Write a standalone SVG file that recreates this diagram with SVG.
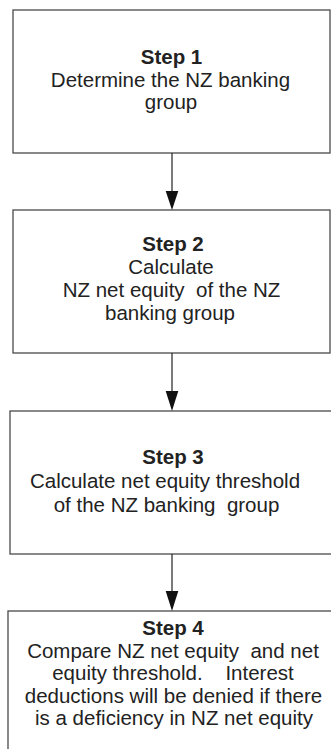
<svg xmlns="http://www.w3.org/2000/svg" width="331" height="749" viewBox="0 0 331 749">
<defs>
<style>
.box{fill:#fff;stroke:#4a4a4a;stroke-width:1.3}
.t{font-family:"Liberation Sans",Arial,sans-serif;font-size:20.5px;fill:#222;text-anchor:middle}
.b{font-weight:bold}
.c{stroke:#222;stroke-width:1.2;fill:none}
.h{fill:#111;stroke:none}
</style>
</defs>
<rect width="331" height="749" fill="#fff"/>
<g id="step1">
<rect class="box" x="13" y="10" width="317" height="143"/>
<text class="t b" x="171.5" y="64">Step 1</text>
<text class="t" x="170.5" y="86.5">Determine the NZ banking</text>
<text class="t" x="171" y="108.5">group</text>
</g>
<g id="step2">
<rect class="box" x="13" y="210" width="317" height="143"/>
<text class="t b" x="173" y="251">Step 2</text>
<text class="t" x="171" y="274">Calculate</text>
<text class="t" x="171.5" y="297" xml:space="preserve">NZ net equity  of the NZ</text>
<text class="t" x="170" y="320">banking group</text>
</g>
<g id="step3">
<rect class="box" x="10" y="411" width="330" height="143"/>
<text class="t b" x="173" y="464">Step 3</text>
<text class="t" x="165" y="488">Calculate net equity threshold</text>
<text class="t" x="166.5" y="511.5" xml:space="preserve">of the NZ banking  group</text>
</g>
<g id="step4">
<rect class="box" x="8" y="611" width="335" height="150"/>
<text class="t b" x="173" y="635">Step 4</text>
<text class="t" x="173" y="657.5" xml:space="preserve">Compare NZ net equity  and net</text>
<text class="t" x="173" y="680" xml:space="preserve">equity threshold.    Interest</text>
<text class="t" x="173.5" y="702.5">deductions will be denied if there</text>
<text class="t" x="174" y="725">is a deficiency in NZ net equity</text>
</g>
<g id="connectors">
<line class="c" x1="172" y1="153" x2="172" y2="192"/>
<polygon class="h" points="165.7,191 178.3,191 172,210"/>
<line class="c" x1="172" y1="353" x2="172" y2="392"/>
<polygon class="h" points="165.7,391 178.3,391 172,411"/>
<line class="c" x1="172" y1="554" x2="172" y2="592"/>
<polygon class="h" points="165.7,591 178.3,591 172,611"/>
</g>
</svg>
